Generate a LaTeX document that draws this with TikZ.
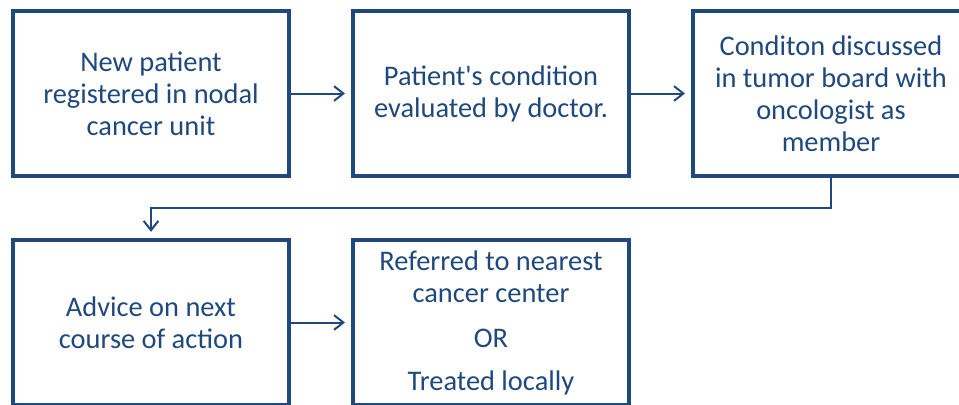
\documentclass[tikz,border=0pt]{standalone}
\usepackage{fontspec}
\setmainfont{Carlito}
\usetikzlibrary{arrows.meta}
\definecolor{boxblue}{HTML}{1F497D}
\tikzset{
  box/.style={draw=boxblue, line width=3pt, text=boxblue, align=center,
    minimum width=207pt, minimum height=124pt, inner sep=0pt,
    font=\fontsize{21.3}{24}\selectfont},
  link/.style={draw=boxblue, line width=1.5pt,
    -{Straight Barb[length=7pt,width=11pt,line width=1.5pt]}, shorten >=4.5pt}
}
\begin{document}
\begin{tikzpicture}[x=0.75pt, y=-0.75pt]
  \useasboundingbox (0,0) rectangle (959,404);
  \clip (0,0) rectangle (959,404);
  % first row
  \node[box] (reg)   at (151,93.5) {New patient\\registered in nodal\\cancer unit};
  \node[box] (eval)  at (491,93.5) {Patient\textquotesingle s condition\\evaluated by doctor.};
  \node[box] (board) at (831,93.5) {Conditon discussed\\in tumor board with\\oncologist as\\member};
  % second row
  \node[box] (advice) at (151,322.5) {Advice on next\\course of action};
  \node[box] (refer)  at (491,322.5) {Referred to nearest\\cancer center\\[10pt]OR\\[8pt]Treated locally};
  % connectors
  \draw[link] (reg.east) -- (eval.west);
  \draw[link] (eval.east) -- (board.west);
  \draw[link] (board.south) -- ++(0,30) -| (advice.north);
  \draw[link] (advice.east) -- (refer.west);
\end{tikzpicture}
\end{document}
